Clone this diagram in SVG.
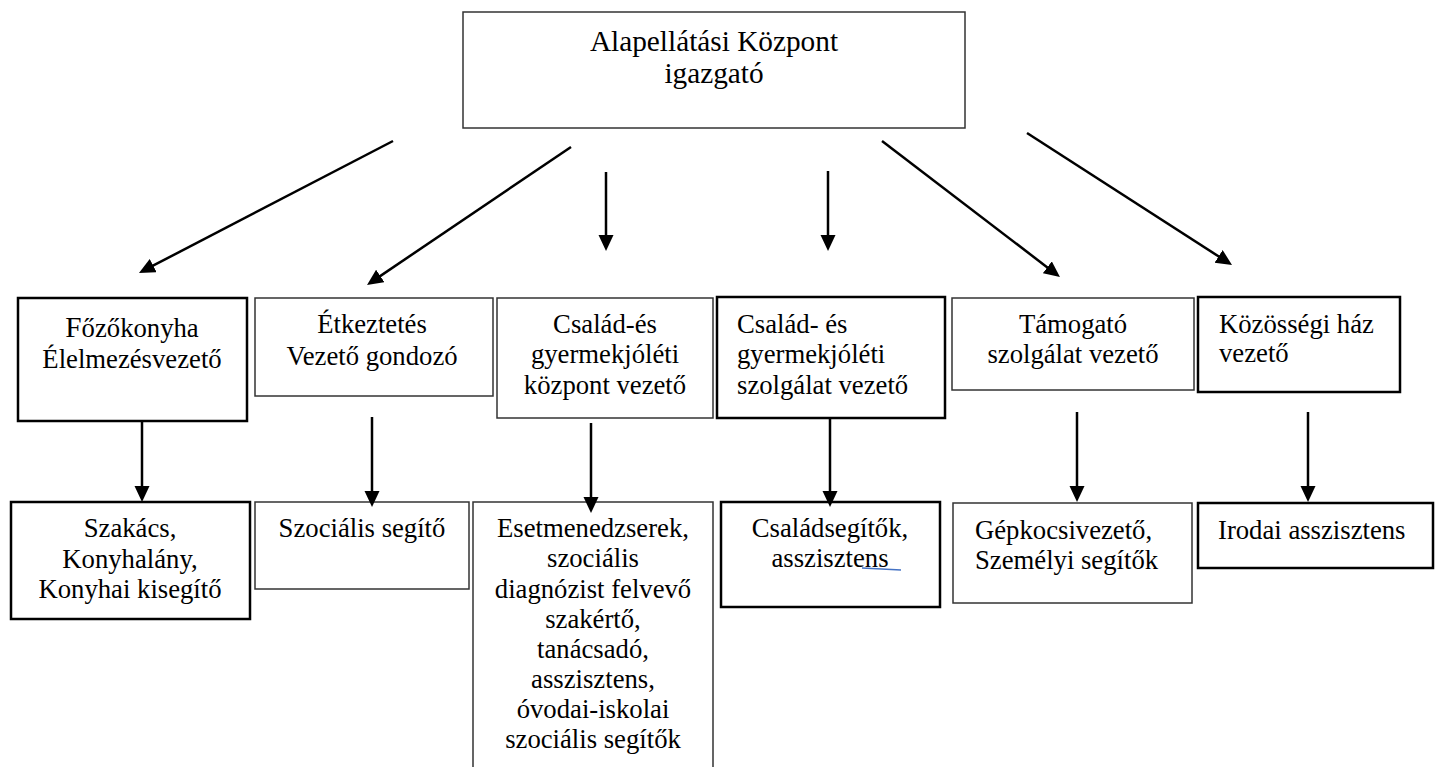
<svg xmlns="http://www.w3.org/2000/svg" width="1437" height="767" viewBox="0 0 1437 767">
<style>
  .thin { fill: #fff; stroke: #333; stroke-width: 1.5; }
  .thick { fill: #fff; stroke: #000; stroke-width: 2.5; }
  text { font-family: "Liberation Serif", "Times New Roman", "DejaVu Serif", serif; font-size: 26.7px; fill: #000; }
  .c { text-anchor: middle; }
  .big { font-size: 29.3px; }
  .conn line { stroke: #000; stroke-width: 2.5; }
</style>
<defs>
  <marker id="arr" markerUnits="userSpaceOnUse" markerWidth="18" markerHeight="16" refX="10" refY="7.5" orient="auto">
    <path d="M0,0 L16,7.5 L0,15 z" fill="#000"/>
  </marker>
</defs>
<rect width="1437" height="767" fill="#fff"/>
<g font-family="'Liberation Serif', 'Times New Roman', 'DejaVu Serif', serif">

<g id="n-top">
  <rect class="thin" x="463" y="12" width="502" height="116"/>
  <text class="c big" x="714" y="51">Alapellátási Központ</text>
  <text class="c big" x="714" y="83">igazgató</text>
</g>

<g id="n-fozokonyha">
  <rect class="thick" x="18" y="298" width="229" height="123"/>
  <text class="c" x="132" y="337"><tspan class="big">F</tspan>őzőkonyha</text>
  <text class="c" x="132" y="368">Élelmezésvezető</text>
</g>
<g id="n-etkeztetes">
  <rect class="thin" x="255" y="298" width="238" height="98"/>
  <text class="c" x="372" y="333">Étkeztetés</text>
  <text class="c" x="372" y="365">Vezető gondozó</text>
</g>
<g id="n-csgyk">
  <rect class="thin" x="497" y="298" width="216" height="120"/>
  <text class="c" x="605" y="333">Család-és</text>
  <text class="c" x="605" y="363">gyermekjóléti</text>
  <text class="c" x="605" y="394">központ vezető</text>
</g>
<g id="n-csgysz">
  <rect class="thick" x="717" y="297" width="228" height="121"/>
  <text x="737" y="333">Család- és</text>
  <text x="737" y="363">gyermekjóléti</text>
  <text x="737" y="394">szolgálat vezető</text>
</g>
<g id="n-tamogato">
  <rect class="thin" x="952" y="298" width="242" height="92"/>
  <text class="c" x="1073" y="333">Támogató</text>
  <text class="c" x="1073" y="363">szolgálat vezető</text>
</g>
<g id="n-kozossegi">
  <rect class="thick" x="1198" y="297" width="202" height="95"/>
  <text x="1219" y="333">Közösségi ház</text>
  <text x="1219" y="362">vezető</text>
</g>

<g id="n-szakacs">
  <rect class="thick" x="11" y="502" width="239" height="117"/>
  <text class="c" x="130" y="537">Szakács,</text>
  <text class="c" x="130" y="568">Konyhalány,</text>
  <text class="c" x="130" y="598">Konyhai kisegítő</text>
</g>
<g id="n-szocialis">
  <rect class="thin" x="255" y="502" width="214" height="87"/>
  <text class="c" x="362" y="537">Szociális segítő</text>
</g>
<g id="n-esetmenedzser">
  <path class="thin" d="M473,770 L473,502 L713,502 L713,770"/>
  <text class="c" x="593" y="537">Esetmenedzserek,</text>
  <text class="c" x="593" y="567">szociális</text>
  <text class="c" x="593" y="598">diagnózist felvevő</text>
  <text class="c" x="593" y="628">szakértő,</text>
  <text class="c" x="593" y="658">tanácsadó,</text>
  <text class="c" x="593" y="688">asszisztens,</text>
  <text class="c" x="593" y="718">óvodai-iskolai</text>
  <text class="c" x="593" y="748">szociális segítők</text>
</g>
<g id="n-csaladsegitok">
  <rect class="thick" x="721" y="502" width="219" height="105"/>
  <text class="c" x="830" y="537">Családsegítők,</text>
  <text class="c" x="830" y="567">asszisztens</text>
  <path d="M862,568 L901,570" stroke="#4472c4" stroke-width="1.3" fill="none"/>
</g>
<g id="n-gepkocsi">
  <rect class="thin" x="953" y="503" width="239" height="100"/>
  <text x="975" y="539">Gépkocsivezető,</text>
  <text x="975" y="569">Személyi segítők</text>
</g>
<g id="n-irodai">
  <rect class="thick" x="1198" y="503" width="235" height="65"/>
  <text x="1218" y="539">Irodai asszisztens</text>
</g>
</g>

<g id="connectors" class="conn">
  <line x1="393" y1="141" x2="144.3" y2="270.2" marker-end="url(#arr)"/>
  <line x1="571" y1="147" x2="372" y2="281.6" marker-end="url(#arr)"/>
  <line x1="606" y1="172" x2="606" y2="245" marker-end="url(#arr)"/>
  <line x1="828" y1="171" x2="828" y2="245" marker-end="url(#arr)"/>
  <line x1="882" y1="141" x2="1055.2" y2="273.4" marker-end="url(#arr)"/>
  <line x1="1027" y1="133" x2="1227" y2="261.8" marker-end="url(#arr)"/>
  <line x1="142" y1="421" x2="142" y2="496" marker-end="url(#arr)"/>
  <line x1="372" y1="417" x2="372" y2="501" marker-end="url(#arr)"/>
  <line x1="591" y1="423" x2="591" y2="507" marker-end="url(#arr)"/>
  <line x1="830" y1="418" x2="830" y2="501" marker-end="url(#arr)"/>
  <line x1="1077" y1="412" x2="1077" y2="496" marker-end="url(#arr)"/>
  <line x1="1308" y1="412" x2="1308" y2="496" marker-end="url(#arr)"/>
</g>
</svg>
